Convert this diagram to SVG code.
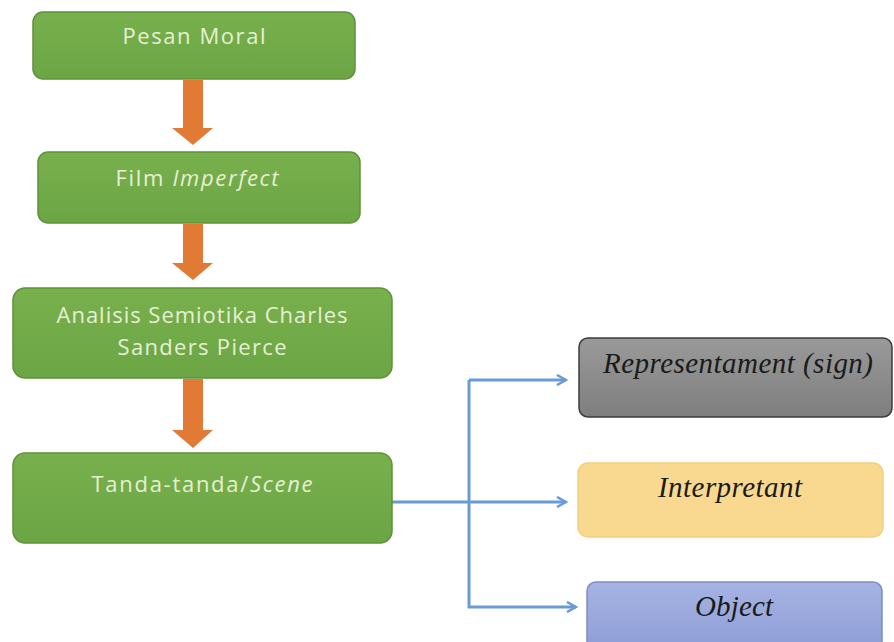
<svg xmlns="http://www.w3.org/2000/svg" width="894" height="642" viewBox="0 0 894 642">
<style>
.g{fill:url(#green);stroke:#5f9138;stroke-width:1.5}
.gt{font-family:"Open Sans","Liberation Sans",sans-serif;font-size:22px;fill:#e6f0d6;text-anchor:middle}
.st{font-family:"Liberation Serif","DejaVu Serif",serif;font-style:italic;font-size:29px;fill:#1a1a1a;text-anchor:middle}
.ar{fill:#e07a35}
.c{fill:none;stroke:#6a9ad8;stroke-width:3}
</style>
<defs>
<linearGradient id="green" x1="0" y1="0" x2="0" y2="1"><stop offset="0" stop-color="#77b04c"/><stop offset="1" stop-color="#6ca544"/></linearGradient>
<linearGradient id="gray" x1="0" y1="0" x2="0" y2="1"><stop offset="0" stop-color="#9a9a9a"/><stop offset="1" stop-color="#7e7e7e"/></linearGradient>
<linearGradient id="blue" x1="0" y1="0" x2="0" y2="1"><stop offset="0" stop-color="#a6b3e2"/><stop offset="1" stop-color="#8d9dd6"/></linearGradient>
<marker id="ah" viewBox="0 0 12 12" refX="10" refY="6" markerWidth="12" markerHeight="12" markerUnits="userSpaceOnUse" orient="auto"><path d="M1,1 L10,6 L1,11" fill="none" stroke="#6a9ad8" stroke-width="2.5"/></marker>
</defs>
<rect width="894" height="642" fill="#ffffff"/>
<g id="connectors">
<path class="ar" d="M183,80 H203 V128 H213 L193,145 L172,128 H183 Z"/>
<path class="ar" d="M183,224 H203 V263 H213 L193,280 L172,263 H183 Z"/>
<path class="ar" d="M183,379 H203 V430 H213 L193,448 L172,430 H183 Z"/>
<path class="c" d="M392,502 H566" marker-end="url(#ah)"/>
<path class="c" d="M469,380 H566" marker-end="url(#ah)"/>
<path class="c" d="M469,380 V607 H576" marker-end="url(#ah)"/>
</g>
<g id="pesan-moral">
<rect class="g" x="33" y="12" width="322" height="67" rx="10"/>
<text class="gt" x="194" y="44" textLength="143">Pesan Moral</text>
</g>
<g id="film-imperfect">
<rect class="g" x="38" y="152" width="322" height="71" rx="10"/>
<text class="gt" x="197" y="186" textLength="163">Film <tspan font-style="italic">Imperfect</tspan></text>
</g>
<g id="analisis">
<rect class="g" x="13" y="288" width="379" height="90" rx="12"/>
<text class="gt" x="202" y="323" textLength="291">Analisis Semiotika Charles</text>
<text class="gt" x="202" y="355" textLength="169">Sanders Pierce</text>
</g>
<g id="tanda">
<rect class="g" x="13" y="453" width="379" height="90" rx="12"/>
<text class="gt" x="202" y="492" textLength="221">Tanda-tanda/<tspan font-style="italic">Scene</tspan></text>
</g>
<g id="representament">
<rect x="579" y="338" width="313" height="79" rx="9" fill="url(#gray)" stroke="#3c3c3c" stroke-width="1.5"/>
<text class="st" x="738" y="373" textLength="270">Representament (sign)</text>
</g>
<g id="interpretant">
<rect x="578" y="463" width="305" height="74" rx="10" fill="#f9d98f" stroke="#f2cf80" stroke-width="1.5"/>
<text class="st" x="730" y="497" textLength="144">Interpretant</text>
</g>
<g id="object">
<rect x="587" y="582" width="295" height="70" rx="9" fill="url(#blue)" stroke="#7b8dc6" stroke-width="1.5"/>
<text class="st" x="734" y="616" textLength="78">Object</text>
</g>
</svg>
